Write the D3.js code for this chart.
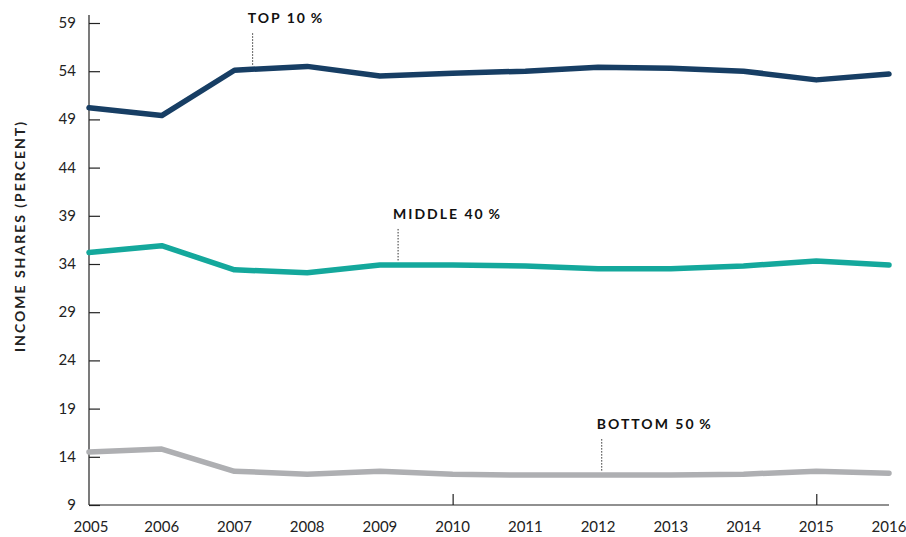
<!DOCTYPE html>
<html><head><meta charset="utf-8">
<script src="https://cdn.jsdelivr.net/npm/d3@7"></script>
<style>body{margin:0;background:#fff}svg{display:block}text{font-family:Lato,"Open Sans",sans-serif}</style>
</head><body><svg id="c" width="906" height="537"></svg>
<script>
const years = [2005,2006,2007,2008,2009,2010,2011,2012,2013,2014,2015,2016];
const top10 = [50.2,49.4,54.1,54.5,53.5,53.8,54.0,54.4,54.3,54.0,53.1,53.7];
const middle40 = [35.2,35.9,33.4,33.1,33.9,33.9,33.8,33.5,33.5,33.8,34.3,33.9];
const bottom50 = [14.5,14.8,12.5,12.2,12.5,12.2,12.1,12.1,12.1,12.2,12.5,12.3];
const yTicks = [9,14,19,24,29,34,39,44,49,54,59];
const xTickMarks = [2010,2015];
const seriesNames = ["TOP 10\u2009%","MIDDLE 40\u2009%","BOTTOM 50\u2009%"];
const labelYears = [2007.25,2009.25,2012.05];

const svg = d3.select("#c");
const x = d3.scaleLinear().domain([2005,2016]).range([89,889]);
const y = d3.scaleLinear().domain([9,59]).range([505,23]);

// y axis
const ya = svg.append("g").attr("transform","translate(89,0)")
  .call(d3.axisRight(y).tickValues(yTicks).tickSize(11).tickFormat(""));
ya.select(".domain").attr("d","M0,15V505").attr("stroke","#222").attr("stroke-width",1.2);
ya.selectAll(".tick line").attr("stroke","#222").attr("stroke-width",1.2);
svg.append("g").selectAll("text").data(yTicks).join("text")
  .attr("x",76).attr("y",d=>y(d)+5).attr("text-anchor","end")
  .attr("font-size",15).attr("fill","#222").text(d=>d);

// x axis
const xa = svg.append("g").attr("transform","translate(0,505)")
  .call(d3.axisTop(x).tickValues(xTickMarks).tickSize(11).tickFormat(""));
xa.select(".domain").attr("d","M89,0H889").attr("stroke","#222").attr("stroke-width",1.2);
xa.selectAll(".tick line").attr("stroke","#222").attr("stroke-width",1.2);
svg.append("g").selectAll("text").data(years).join("text")
  .attr("x",d=>x(d)+ (d===2005?2:0)).attr("y",532).attr("text-anchor","middle")
  .attr("font-size",15).attr("fill","#222").text(d=>d);

// y title
svg.append("text").attr("transform","translate(25,236) rotate(-90)")
  .attr("text-anchor","middle").attr("font-size",14).attr("font-weight","bold")
  .attr("letter-spacing",2).attr("fill","#222").text("INCOME SHARES (PERCENT)");

const series = [top10, middle40, bottom50];
const colors = ["#173e64","#14a89c","#aeafb2"];
const line = d3.line().x((d,i)=>x(years[i])).y(d=>y(d));
series.forEach((s,k)=>{
  svg.append("path").datum(s).attr("d",line).attr("fill","none")
    .attr("stroke",colors[k]).attr("stroke-width",5.5)
    .attr("stroke-linejoin","round").attr("stroke-linecap","round");
});

// labels with dotted leaders
const interp = (s,yr)=>{const i=Math.floor(yr-2005);const t=yr-2005-i;return s[i]*(1-t)+s[Math.min(i+1,s.length-1)]*t;};
series.forEach((s,k)=>{
  const lx = x(labelYears[k]);
  const ly = y(interp(s,labelYears[k]));
  svg.append("line").attr("x1",lx).attr("x2",lx).attr("y1",ly-36).attr("y2",ly-3)
    .attr("stroke","#333").attr("stroke-width",1).attr("stroke-dasharray","1.5,1.5");
  svg.append("text").attr("x",lx-5).attr("y",ly-46).attr("font-size",14)
    .attr("font-weight","bold").attr("letter-spacing",2).attr("fill","#111").text(seriesNames[k]);
});
</script></body></html>
